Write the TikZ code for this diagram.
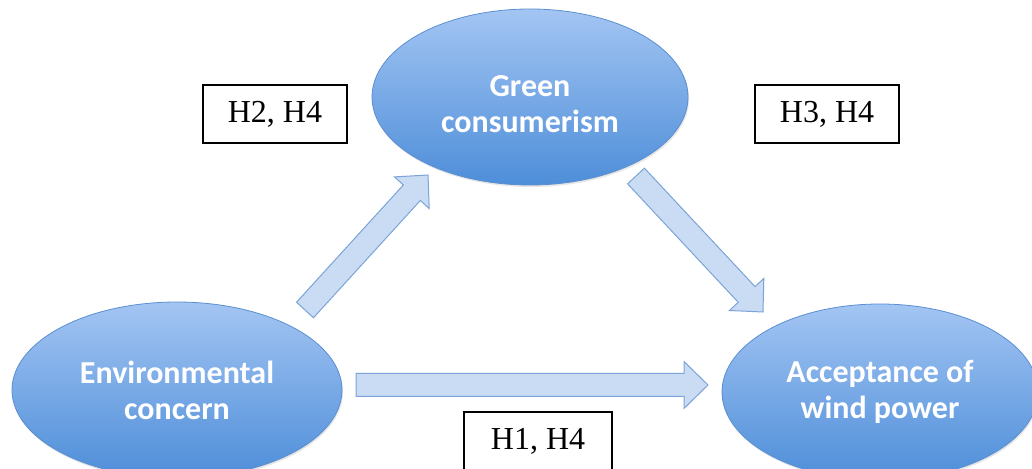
\documentclass[tikz,border=0pt]{standalone}
\usepackage{fontspec}
\setmainfont{Liberation Serif}
\newfontfamily\calfont{Carlito}
\usetikzlibrary{calc,positioning,shapes.geometric,shadows}

\definecolor{elltop}{HTML}{A3C5F3}
\definecolor{ellbot}{HTML}{4E8ED9}
\definecolor{ellline}{HTML}{5B8FD0}
\definecolor{arrfill}{HTML}{C9DCF3}
\definecolor{arrline}{HTML}{7BA3D8}

\tikzset{
  construct/.style={ellipse, draw=ellline, line width=0.8pt, top color=elltop, bottom color=ellbot,
    minimum width=316pt, minimum height=176pt, inner sep=0pt, align=center, text=white,
    font=\calfont\bfseries\fontsize{32}{36}\selectfont,
    drop shadow={opacity=0.2, shadow xshift=1pt, shadow yshift=-2pt}},
  hyp/.style={draw=black, line width=1.3pt, fill=white, minimum width=144pt, minimum height=58pt,
    inner sep=0pt, font=\fontsize{32}{36}\selectfont},
  blockarr/.style={draw=arrline, line width=1pt, fill=arrfill, line join=miter}
}

\newcommand{\blockarrow}[2]{%
  \coordinate (bh) at ($(#2)!24pt!(#1)$);
  \draw[blockarr] ($(#1)!11.5pt!90:(#2)$) -- ($(bh)!11.5pt!90:(#2)$) -- ($(bh)!23.5pt!90:(#2)$)
    -- (#2) -- ($(bh)!23.5pt!-90:(#2)$) -- ($(bh)!11.5pt!-90:(#2)$) -- ($(#1)!11.5pt!-90:(#2)$) -- cycle;
}

\begin{document}
\begin{tikzpicture}[x=1pt,y=1pt]
    \useasboundingbox (0,0) rectangle (1032,468);

    \node[construct] (green) at (530,371) {\rule{0pt}{36pt}Green\\consumerism};
    \node[construct, minimum width=330pt] (env) at (177,78) {Environmental\\concern};
    \node[construct] (accept) at (880,76) {Acceptance of\\wind power};

    \node[hyp] (h2) at (275,354) {H2, H4};
    \node[hyp] (h3) at (827,354) {H3, H4};
    \node[hyp, minimum width=148pt] (h1) at (538,27) {H1, H4};

    \coordinate (h2s) at (305,158);
    \coordinate (h2e) at (428,293);
    \coordinate (h3s) at (636,292);
    \coordinate (h3e) at (763,156);
    \coordinate (h1s) at (356,83);
    \coordinate (h1e) at (708,83);

    \blockarrow{h2s}{h2e}
    \blockarrow{h3s}{h3e}
    \blockarrow{h1s}{h1e}

\end{tikzpicture}
\end{document}
